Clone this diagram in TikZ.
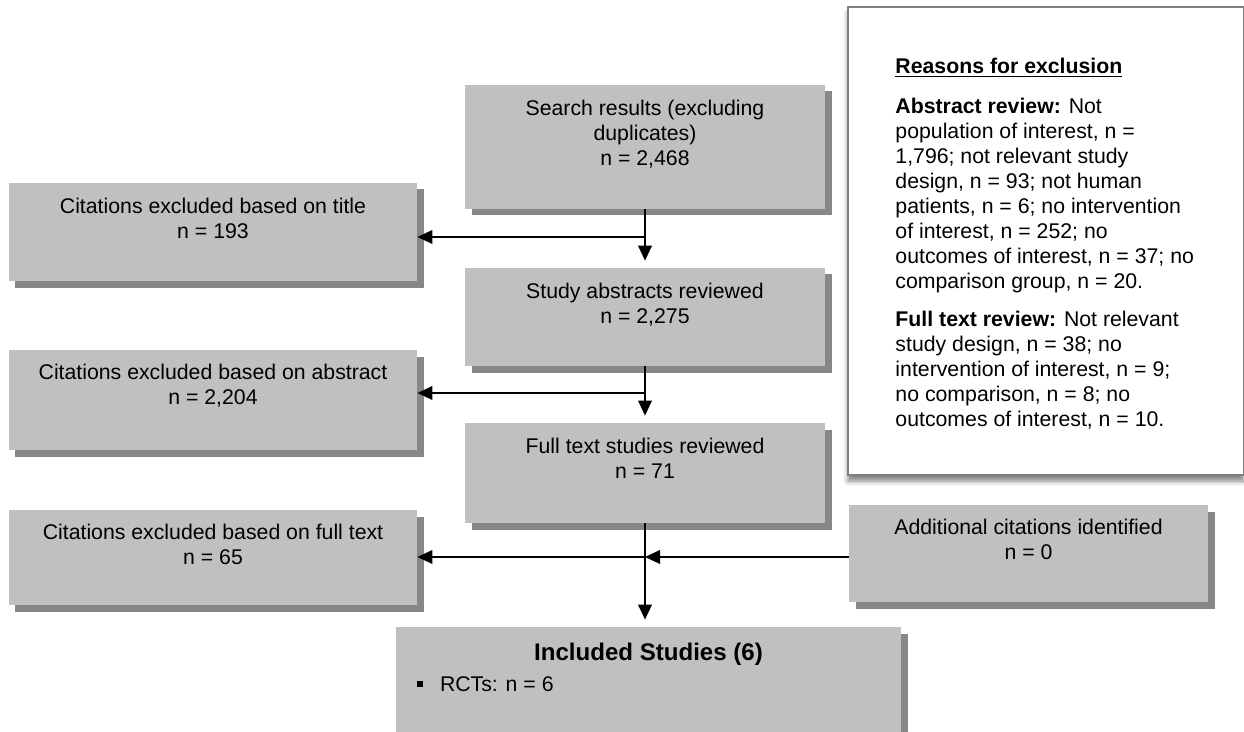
\documentclass[tikz,border=0pt]{standalone}
\usepackage{fontspec}
\setmainfont{Liberation Sans}
\usetikzlibrary{arrows.meta,shadows,shadows.blur}

\definecolor{boxgray}{HTML}{C0C0C0}
\definecolor{shadowgray}{HTML}{878787}
\definecolor{framegray}{HTML}{7F7F7F}

\begin{document}
\begin{tikzpicture}[
    font=\fontsize{12.1}{14.2}\selectfont,
    box/.style={fill=boxgray, inner sep=0pt,
      drop shadow={shadow xshift=0.13cm, shadow yshift=-0.13cm, fill=shadowgray, opacity=1}},
    boxtext/.style={anchor=north, align=center, inner sep=0pt},
    flow/.style={line width=0.04cm, -{Triangle[length=0.3cm, width=0.27cm]}}
  ]
  \useasboundingbox (0,0) rectangle (24.88,-14.64);

  % Reasons box
  \node[fill=white, draw=framegray, line width=0.035cm, minimum width=7.91cm, minimum height=9.36cm,
    blur shadow={shadow xshift=0cm, shadow yshift=-0.12cm, shadow blur radius=0.1cm, shadow opacity=50}]
    (reasons) at (20.915,-4.82) {};
  \node[anchor=north west, align=left, inner sep=0pt] (reasonstxt)
    at ([xshift=0.96cm, yshift=-1.04cm]reasons.north west)
    {\textbf{\underline{Reasons for exclusion}}\\[0.3cm]
     \textbf{Abstract review:} Not\\
     population of interest, n =\\
     1,796; not relevant study\\
     design, n = 93; not human\\
     patients, n = 6; no intervention\\
     of interest, n = 252; no\\
     outcomes of interest, n = 37; no\\
     comparison group, n = 20.\\[0.26cm]
     \textbf{Full text review:} Not relevant\\
     study design, n = 38; no\\
     intervention of interest, n = 9;\\
     no comparison, n = 8; no\\
     outcomes of interest, n = 10.};

  % Main column nodes
  \node[box, minimum width=7.2cm, minimum height=2.48cm] (search) at (12.9,-2.94) {};
  \node[boxtext] (searchtxt) at ([yshift=-0.31cm]search.north) {Search results (excluding\\duplicates)\\n = 2,468};

  \node[box, minimum width=7.2cm, minimum height=1.96cm] (abstracts) at (12.9,-6.34) {};
  \node[boxtext] (abstractstxt) at ([yshift=-0.31cm]abstracts.north) {Study abstracts reviewed\\n = 2,275};

  \node[box, minimum width=7.2cm, minimum height=2cm] (fulltext) at (12.9,-9.46) {};
  \node[boxtext] (fulltexttxt) at ([yshift=-0.31cm]fulltext.north) {Full text studies reviewed\\n = 71};

  \node[box, minimum width=10.1cm, minimum height=2.16cm] (included) at (12.97,-13.62) {};
  \node[anchor=north, inner sep=0pt, font=\fontsize{13.7}{16}\selectfont\bfseries] (includedtxt)
    at ([yshift=-0.32cm]included.north) {Included Studies (6)};
  \node[anchor=north west, inner sep=0pt] (rctstxt) at ([xshift=0.42cm, yshift=-1.0cm]included.north west)
    {\raisebox{0.09cm}{\rule{0.12cm}{0.12cm}}\hspace{0.34cm}RCTs: n = 6};

  % Exclusion nodes
  \node[box, minimum width=8.16cm, minimum height=1.96cm] (titleexcl) at (4.26,-4.64) {};
  \node[boxtext] (titleexcltxt) at ([yshift=-0.31cm]titleexcl.north) {Citations excluded based on title\\n = 193};

  \node[box, minimum width=8.16cm, minimum height=2cm] (abstractexcl) at (4.26,-8.0) {};
  \node[boxtext] (abstractexcltxt) at ([yshift=-0.29cm]abstractexcl.north) {Citations excluded based on abstract\\n = 2,204};

  \node[box, minimum width=8.16cm, minimum height=1.9cm] (fulltextexcl) at (4.26,-11.15) {};
  \node[boxtext] (fulltextexcltxt) at ([yshift=-0.29cm]fulltextexcl.north) {Citations excluded based on full text\\n = 65};

  \node[box, minimum width=7.18cm, minimum height=1.94cm] (additional) at (20.57,-11.07) {};
  \node[boxtext] (additionaltxt) at ([yshift=-0.29cm]additional.north) {Additional citations identified\\n = 0};

  % Connectors
  \coordinate (split1) at (12.9,-4.74);
  \coordinate (split2) at (12.9,-7.86);
  \coordinate (split3) at (12.9,-11.14);

  \draw[flow, shorten >=0.14cm] (search) -- (abstracts);
  \draw[flow] (split1) -- (split1 -| titleexcl.east);
  \draw[flow, shorten >=0.14cm] (abstracts) -- (fulltext);
  \draw[flow] (split2) -- (split2 -| abstractexcl.east);
  \draw[flow, shorten >=0.14cm] (fulltext.south) -- (fulltext.south |- included.north);
  \draw[flow] (split3) -- (split3 -| fulltextexcl.east);
  \draw[flow] (additional.west |- split3) -- (split3);
\end{tikzpicture}
\end{document}
